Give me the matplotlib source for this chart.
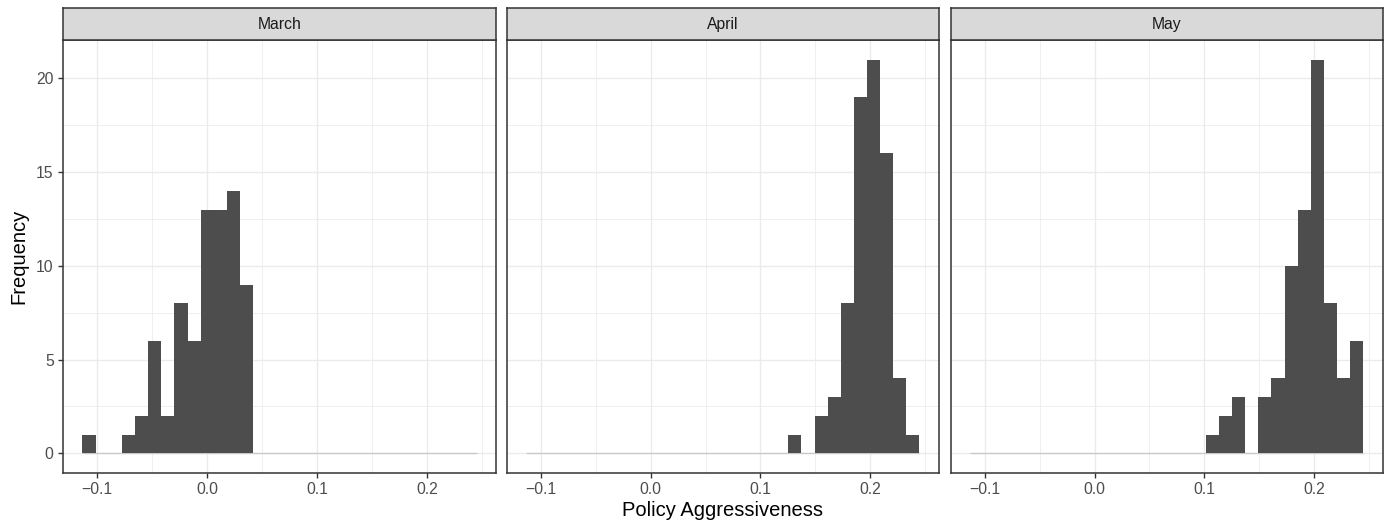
import matplotlib
matplotlib.use("Agg")
import matplotlib.pyplot as plt
import numpy as np

plt.rcParams['font.family'] = ['Liberation Sans', 'DejaVu Sans']

# ---- data ----
months = ["March", "April", "May"]
bin_min = -0.11333   # left edge of first bin
bin_max = 0.24485    # right edge of last bin
n_bins = 30
counts_march = [1, 0, 0, 1, 2, 6, 2, 8, 6, 13, 13, 14, 9, 0, 0,
                0, 0, 0, 0, 0, 0, 0, 0, 0, 0, 0, 0, 0, 0, 0]
counts_april = [0, 0, 0, 0, 0, 0, 0, 0, 0, 0, 0, 0, 0, 0, 0,
                0, 0, 0, 0, 0, 1, 0, 2, 3, 8, 19, 21, 16, 4, 1]
counts_may = [0, 0, 0, 0, 0, 0, 0, 0, 0, 0, 0, 0, 0, 0, 0,
              0, 0, 0, 1, 2, 3, 0, 3, 4, 10, 13, 21, 8, 4, 6]
all_counts = [counts_march, counts_april, counts_may]
x_ticks = [-0.1, 0.0, 0.1, 0.2]
x_ticklabels = ["\u22120.1", "0.0", "0.1", "0.2"]
y_ticks = [0, 5, 10, 15, 20]
y_ticklabels = ["0", "5", "10", "15", "20"]

# ---- layout ----
W, H = 1389, 525
fig = plt.figure(figsize=(W / 100, H / 100), dpi=100)
fig.patch.set_facecolor("white")

panel_lr = [(62.7, 496.3), (506.7, 939.0), (950.7, 1382.7)]
strip_top, strip_bot, panel_bot = 8.3, 40.0, 473.0

edges = np.linspace(bin_min, bin_max, n_bins + 1)
bw = edges[1] - edges[0]
span = bin_max - bin_min
xlim = (bin_min - 0.05 * span, bin_max + 0.05 * span)
ymax = max(max(c) for c in all_counts)
ylim = (-0.05 * ymax, ymax * 1.05)

border_col = "#333333"
grid_col = "#EBEBEB"

for i, (month, counts) in enumerate(zip(months, all_counts)):
    l, r = panel_lr[i]
    ax = fig.add_axes([l / W, 1 - panel_bot / H, (r - l) / W, (panel_bot - strip_bot) / H])
    ax.set_xlim(*xlim)
    ax.set_ylim(*ylim)
    # grids
    for xv in [-0.1, 0.0, 0.1, 0.2]:
        ax.axvline(xv, color=grid_col, lw=1.0, zorder=0)
    for xv in [-0.05, 0.05, 0.15, 0.25]:
        ax.axvline(xv, color=grid_col, lw=0.55, zorder=0)
    for yv in [0, 5, 10, 15, 20]:
        ax.axhline(yv, color=grid_col, lw=1.0, zorder=0)
    for yv in [2.5, 7.5, 12.5, 17.5]:
        ax.axhline(yv, color=grid_col, lw=0.55, zorder=0)
    # baseline of zero-height bins
    ax.hlines(0, bin_min, bin_max, color="#C4CACA", lw=0.9, zorder=1)
    ax.bar(edges[:-1], counts, width=bw, align="edge", color="#4D4D4D",
           edgecolor="none", linewidth=0, zorder=2)
    for s in ax.spines.values():
        s.set_color(border_col)
        s.set_linewidth(1.1)
        s.set_zorder(5)
    ax.set_xticks(x_ticks)
    ax.set_xticklabels(x_ticklabels)
    ax.tick_params(axis="both", colors=border_col, labelcolor="#4D4D4D",
                   labelsize=11.3, length=3.5, width=1.0, pad=3)
    if i == 0:
        ax.set_yticks(y_ticks)
        ax.set_yticklabels(y_ticklabels)
    else:
        ax.set_yticks(y_ticks)
        ax.tick_params(axis="y", length=0, labelleft=False)
    # strip
    sax = fig.add_axes([l / W, 1 - strip_bot / H, (r - l) / W, (strip_bot - strip_top) / H])
    sax.set_facecolor("#D9D9D9")
    sax.set_xticks([])
    sax.set_yticks([])
    for s in sax.spines.values():
        s.set_color(border_col)
        s.set_linewidth(1.1)
    sax.text(0.5, 0.5, month, ha="center", va="center", fontsize=11.3,
             color="#1A1A1A", transform=sax.transAxes)

fig.text((62.7 + 1382.7) / 2 / W, 1 - 511 / H, "Policy Aggressiveness",
         ha="center", va="center", fontsize=14.5, color="black")
fig.text(19 / W, 1 - 256 / H, "Frequency", ha="center", va="center",
         rotation=90, fontsize=14.5, color="black")

fig.savefig("out.png", dpi=100, facecolor="white")
